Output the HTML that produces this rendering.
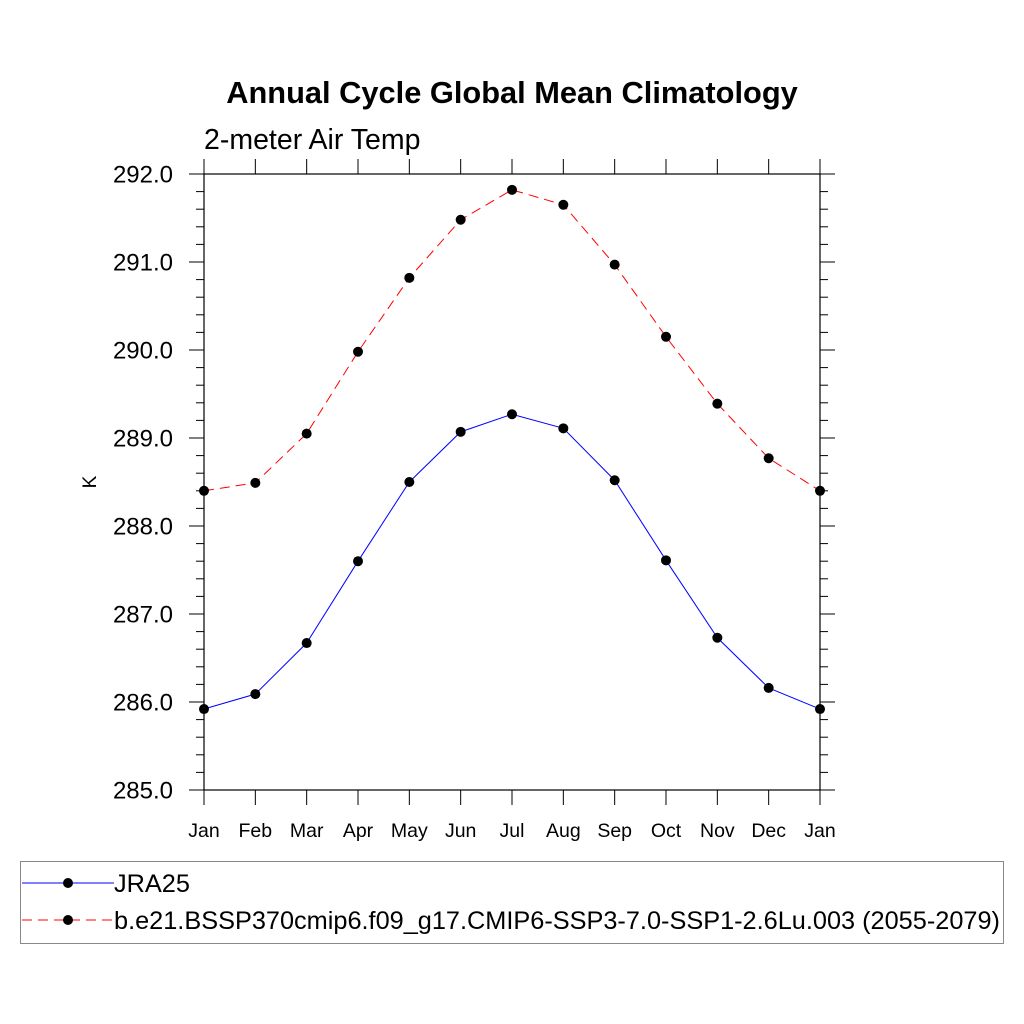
<!DOCTYPE html>
<html><head><meta charset="utf-8"><style>body{margin:0;background:#fff}svg{display:block;font-family:"Liberation Sans",sans-serif}</style></head>
<body>
<svg id="chart" width="1024" height="1024" viewBox="0 0 1024 1024" xmlns="http://www.w3.org/2000/svg">
<rect width="1024" height="1024" fill="#fff"/>
<text x="512" y="103" text-anchor="middle" font-size="30.8" font-weight="bold">Annual Cycle Global Mean Climatology</text>
<text x="204" y="149" font-size="28.5">2-meter Air Temp</text>
<text x="96" y="482" font-size="19" text-anchor="middle" transform="rotate(-90 96 482)">K</text>
<g id="axes"></g>
<g id="series"></g>
<rect x="20.5" y="861.5" width="983" height="82" fill="none" stroke="#888" stroke-width="1"/>
<g id="legend"></g>
</svg>
<script>
const months = ["Jan","Feb","Mar","Apr","May","Jun","Jul","Aug","Sep","Oct","Nov","Dec","Jan"];
const jra25 = [285.92,286.09,286.67,287.60,288.50,289.07,289.27,289.11,288.52,287.61,286.73,286.16,285.92];
const ssp = [288.40,288.49,289.05,289.98,290.82,291.48,291.82,291.65,290.97,290.15,289.39,288.77,288.40];
const yTicks = [285,286,287,288,289,290,291,292];
const yTickLabels = ["285.0","286.0","287.0","288.0","289.0","290.0","291.0","292.0"];
const seriesNames = ["JRA25","b.e21.BSSP370cmip6.f09_g17.CMIP6-SSP3-7.0-SSP1-2.6Lu.003 (2055-2079)"];

const NS="http://www.w3.org/2000/svg";
const L=204,R=820,T=174,B=790,yMin=285,yMax=292;
const xs=i=>L+(R-L)*i/(months.length-1);
const ys=v=>B-(v-yMin)/(yMax-yMin)*(B-T);
function mk(tag,attrs,parent){const e=document.createElementNS(NS,tag);for(const k in attrs)e.setAttribute(k,attrs[k]);parent.appendChild(e);return e;}
const ax=document.getElementById('axes');
const frame=mk('rect',{x:L,y:T,width:R-L,height:B-T,fill:'none',stroke:'#000','stroke-width':1.2},ax);


months.forEach((m,i)=>{
  const x=xs(i);
  mk('line',{x1:x,y1:B,x2:x,y2:B+15,stroke:'#000'},ax);
  mk('line',{x1:x,y1:T,x2:x,y2:T-15,stroke:'#000'},ax);
  const t=mk('text',{x:x,y:B+47,'text-anchor':'middle','font-size':19.5},ax);
  t.textContent=m;
  
  
});
for(let v=yMin;v<=yMax+1e-9;v+=0.2){
  const y=ys(v);const major=Math.abs(v-Math.round(v))<1e-6;const len=major?15:8;
  mk('line',{x1:L,y1:y,x2:L-len,y2:y,stroke:'#000'},ax);
  mk('line',{x1:R,y1:y,x2:R+len,y2:y,stroke:'#000'},ax);
}
yTicks.forEach((v,i)=>{
  const t=mk('text',{x:L-31,y:ys(v)+8.5,'text-anchor':'end','font-size':24},ax);
  t.textContent=yTickLabels[i];
  
  
});
const sg=document.getElementById('series');
function drawSeries(vals,color,dash,name){
  const g=mk('g',{},sg);
  
  
  mk('polyline',{points:vals.map((v,i)=>xs(i)+','+ys(v)).join(' '),fill:'none',stroke:color,'stroke-width':1,'stroke-dasharray':dash},g);
  vals.forEach((v,i)=>{
    const c=mk('circle',{cx:xs(i),cy:ys(v),r:5,fill:'#000'},g);
    
    
  });
}
drawSeries(jra25,'#00f','none','jra25-series');
drawSeries(ssp,'#f00','10 6','ssp-series');
const lg=document.getElementById('legend');
[[883,'#00f','none'],[920,'#f00','10 6']].forEach((e,i)=>{
  const g=mk('g',{},lg);
  
  
  mk('line',{x1:22,y1:e[0],x2:114,y2:e[0],stroke:e[1],'stroke-dasharray':e[2]},g);
  mk('circle',{cx:68,cy:e[0],r:5,fill:'#000'},g);
  const t=mk('text',{x:114,y:e[0]+9,'font-size':25.3},g);
  t.textContent=seriesNames[i];
});
</script>
</body></html>
